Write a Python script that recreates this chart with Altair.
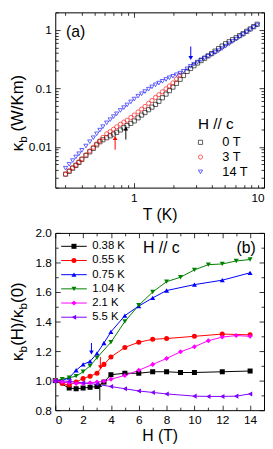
import altair as alt
import pandas as pd

FONT = "Liberation Sans"

# ---------------- panel (a): kappa_b vs T (log-log) ----------------
T_vals = [0.30, 0.32, 0.34, 0.36, 0.38, 0.40, 0.43, 0.46, 0.49, 0.52, 0.55, 0.58, 0.62, 0.66, 0.70, 0.74, 0.79, 0.84, 0.89, 0.95,
          1.01, 1.08, 1.15, 1.22, 1.30, 1.38, 1.47, 1.56, 1.66, 1.77, 1.88, 2.00, 2.13, 2.27, 2.41, 2.57, 2.73, 2.90, 3.09, 3.29,
          3.50, 3.72, 3.96, 4.21, 4.48, 4.77, 5.07, 5.40, 5.74, 6.11, 6.50, 6.91, 7.36, 7.83, 8.33, 8.86]
k_0T = [0.0034, 0.0038, 0.0043, 0.0048, 0.0054, 0.0061, 0.0071, 0.0082, 0.0094, 0.0108, 0.0122, 0.0132, 0.0143, 0.0154, 0.0165, 0.0177, 0.0194, 0.0212, 0.0230, 0.0252,
        0.0277, 0.0313, 0.0349, 0.0386, 0.0431, 0.0477, 0.0531, 0.0600, 0.0690, 0.0798, 0.0914, 0.105, 0.122, 0.143, 0.166, 0.195, 0.219, 0.244, 0.272, 0.299,
        0.327, 0.360, 0.394, 0.434, 0.479, 0.530, 0.581, 0.628, 0.681, 0.736, 0.800, 0.863, 0.948, 1.04, 1.14, 1.25]
k_3T = [0.0034, 0.0039, 0.0044, 0.0049, 0.0055, 0.0062, 0.0073, 0.0085, 0.0098, 0.0112, 0.0127, 0.0145, 0.0167, 0.0182, 0.0200, 0.0220, 0.0243, 0.0265, 0.0285, 0.0318,
        0.0350, 0.0395, 0.0440, 0.0490, 0.0555, 0.0620, 0.0700, 0.0780, 0.0875, 0.0985, 0.110, 0.124, 0.145, 0.168]
k_14T = [0.0043, 0.0050, 0.0058, 0.0067, 0.0076, 0.0087, 0.0103, 0.0122, 0.0143, 0.0167, 0.0193, 0.0221, 0.0257, 0.0291, 0.0328, 0.0367, 0.0419, 0.0468, 0.0521, 0.0587,
         0.0656, 0.0735, 0.0807, 0.0881, 0.0968, 0.106, 0.115, 0.123, 0.132, 0.142, 0.152, 0.161, 0.171, 0.182, 0.196, 0.216, 0.238, 0.259, 0.282, 0.308,
         0.330, 0.354, 0.380, 0.410, 0.442, 0.480, 0.526, 0.578, 0.634, 0.696, 0.764, 0.837, 0.920, 1.009, 1.107, 1.214]
fields_a = ["0 T", "3 T", "14 T"]
colors_a = ["#000000", "#ff0000", "#0000ff"]
shapes_a = ["square", "circle", "triangle-down"]

arrow_a_T = [0.87, 0.72, 2.74]
arrow_a_from = [0.0133, 0.0089, 0.52]
arrow_a_to = [0.0205, 0.0142, 0.33]
arrow_a_color = ["#000000", "#ff0000", "#0000ff"]

# ---------------- panel (b): kappa_b(H)/kappa_b(0) vs H ----------------
series_b = ["0.38 K", "0.55 K", "0.75 K", "1.04 K", "2.1 K", "5.5 K"]
colors_b = ["#000000", "#ff0000", "#0000ff", "#008000", "#ff00ff", "#8000ff"]
shapes_b = ["square", "circle", "triangle-up", "triangle-down", "diamond", "triangle-left"]
H_038 = [0, 1, 1.5, 2, 2.5, 3, 3.5, 4, 5, 6, 7, 8, 9, 10, 12, 14]
r_038 = [1.00, 0.95, 0.945, 0.95, 0.955, 0.96, 0.99, 1.04, 1.05, 1.05, 1.06, 1.06, 1.055, 1.055, 1.06, 1.065]
H_055 = [0, 0.5, 1, 1.5, 2, 2.5, 3, 3.5, 4, 5, 6, 7, 8, 10, 12, 14]
r_055 = [1.00, 0.98, 0.97, 0.99, 1.015, 1.03, 1.05, 1.11, 1.16, 1.225, 1.26, 1.28, 1.285, 1.30, 1.315, 1.31]
H_075 = [0, 0.5, 1, 1.5, 2, 2.5, 3, 3.5, 4, 5, 6, 7, 8, 10, 12, 14]
r_075 = [1.00, 1.00, 1.02, 1.07, 1.11, 1.13, 1.185, 1.255, 1.33, 1.44, 1.505, 1.56, 1.61, 1.65, 1.68, 1.73]
H_104 = [0, 0.5, 1, 1.5, 2, 2.5, 3, 4, 5, 6, 7, 8, 9, 10, 11, 12, 13, 14]
r_104 = [1.00, 1.01, 1.02, 1.03, 1.06, 1.10, 1.155, 1.26, 1.40, 1.51, 1.60, 1.67, 1.70, 1.75, 1.785, 1.79, 1.81, 1.82]
H_21 = [0, 0.5, 1, 1.5, 2, 2.5, 3, 3.5, 4, 5, 6, 7, 8, 9, 10, 11, 12, 13, 14]
r_21 = [1.00, 0.99, 0.985, 0.98, 0.98, 0.985, 0.99, 0.995, 1.01, 1.035, 1.07, 1.11, 1.15, 1.195, 1.23, 1.27, 1.295, 1.305, 1.30]
H_55 = [0, 1, 2, 3, 4, 5, 6, 7, 8, 10, 11, 12, 13, 14]
r_55 = [1.00, 0.995, 0.985, 0.975, 0.96, 0.945, 0.93, 0.92, 0.91, 0.895, 0.893, 0.893, 0.895, 0.91]

arrow_b_H = [2.6, 3.24, 3.2]
arrow_b_from = [1.255, 1.16, 0.865]
arrow_b_to = [1.19, 1.09, 0.97]
arrow_b_color = ["#0000ff", "#ff0000", "#000000"]

# ---------------- tables ----------------
rows = []
for lab, ks in zip(fields_a, [k_0T, k_3T, k_14T]):
    for t, k in zip(T_vals, ks):
        rows.append({"T": t, "k": k, "field": lab})
df_a = pd.DataFrame(rows)

rows = []
for lab, hs, rs in zip(series_b, [H_038, H_055, H_075, H_104, H_21, H_55],
                       [r_038, r_055, r_075, r_104, r_21, r_55]):
    for h, r in zip(hs, rs):
        rows.append({"H": h, "r": r, "series": lab})
df_b = pd.DataFrame(rows)

W, HA, HB = 212, 178, 180
ONE = alt.Data(values=[{}])

xa = alt.Scale(type="log", domain=[0.25, 10], nice=False)
ya = alt.Scale(type="log", domain=[0.002, 2], nice=False)
xb = alt.Scale(domain=[0, 15], nice=False, zero=False)
yb = alt.Scale(domain=[0.8, 2.0], nice=False, zero=False)

xt_a = [round(m * 10 ** e, 6) for e in (-1, 0) for m in range(1, 10) if 0.25 <= m * 10 ** e <= 10] + [10]
yt_a = [round(m * 10 ** e, 6) for e in (-3, -2, -1, 0) for m in range(1, 10) if 0.002 <= m * 10 ** e <= 2]
xt_b = list(range(0, 16))
yt_b = [round(0.8 + 0.1 * i, 1) for i in range(13)]


def txt(s, x, y, size, align="left", baseline="middle", angle=0, color="black"):
    return alt.Chart(ONE).mark_text(text=s, font=FONT, fontSize=size, align=align,
                                    baseline=baseline, angle=angle, color=color).encode(
        x=alt.value(x), y=alt.value(y))


def frame_ticks(df, xf, yf, xs, ys, xt, yt, w, h, xmaj, ymaj):
    common = dict(labels=False, domain=False, grid=False, title=None, tickColor="black", tickWidth=0.8)
    xsz = {"condition": {"test": xmaj, "value": 5}, "value": 3}
    ysz = {"condition": {"test": ymaj, "value": 5}, "value": 3}
    l1 = alt.Chart(df).mark_point(opacity=0).encode(
        x=alt.X(xf, scale=xs, axis=alt.Axis(orient="top", offset=-h, values=xt, tickSize=xsz, **common)),
        y=alt.Y(yf, scale=ys, axis=alt.Axis(orient="right", offset=-w, values=yt, tickSize=ysz, **common)))
    l2 = alt.Chart(df).mark_point(opacity=0).encode(
        x=alt.X(xf, scale=xs, axis=alt.Axis(orient="bottom", offset=-h, values=xt, tickSize=xsz, **common)),
        y=alt.Y(yf, scale=ys, axis=alt.Axis(orient="left", offset=-w, values=yt, tickSize=ysz, **common)))
    return [l1, l2]


def arrow_layers(xs_, y0s, y1s, cols, xname, yname, xs, ys):
    out = []
    for xv, a, b, c in zip(xs_, y0s, y1s, cols):
        d = pd.DataFrame({xname: [xv], yname: [a], yname + "2": [b]})
        out.append(alt.Chart(d).mark_rule(color=c, strokeWidth=1).encode(
            x=alt.X(xname + ":Q", scale=xs, axis=None),
            y=alt.Y(yname + ":Q", scale=ys, axis=None), y2=yname + "2:Q"))
        out.append(alt.Chart(d).mark_point(filled=True, color=c, size=22, opacity=1,
                                           shape="triangle-up" if b > a else "triangle-down").encode(
            x=alt.X(xname + ":Q", scale=xs, axis=None),
            y=alt.Y(yname + "2:Q", scale=ys, axis=None)))
    return out


def rot_title(pieces, x0, y0):
    out = []
    y = y0
    for s, size, sub, adv in pieces:
        out.append(txt(s, x0 + (4 if sub else 0), y, size, align="left", baseline="alphabetic", angle=270))
        y -= adv
    return out


# ---------------- panel (a) ----------------
pts_a = alt.Chart(df_a).mark_point(filled=False, size=18, strokeWidth=0.9).encode(
    x=alt.X("T:Q", scale=xa, axis=alt.Axis(orient="bottom", values=[1, 10], format="~g", ticks=False, tickSize=0,
                                           domain=False, grid=False, labelPadding=5, title="T (K)", titlePadding=3)),
    y=alt.Y("k:Q", scale=ya, axis=alt.Axis(orient="left", values=[0.01, 0.1, 1], format="~g", ticks=False, tickSize=0,
                                           domain=False, grid=False, labelPadding=4, title=None)),
    color=alt.Color("field:N", scale=alt.Scale(domain=fields_a, range=colors_a), legend=None),
    shape=alt.Shape("field:N", scale=alt.Scale(domain=fields_a, range=shapes_a), legend=None),
)

layers_a = [pts_a] + frame_ticks(df_a, "T:Q", "k:Q", xa, ya, xt_a, yt_a, W, HA,
                                  "abs(log(datum.value)/LN10 - round(log(datum.value)/LN10)) < 0.001",
                                  "abs(log(datum.value)/LN10 - round(log(datum.value)/LN10)) < 0.001")
layers_a += arrow_layers(arrow_a_T, arrow_a_from, arrow_a_to, arrow_a_color, "T", "k", xa, ya)
layers_a.append(txt("(a)", 11, 20, 16))
layers_a.append(txt("H // c", 145, 113.5, 15.5))
for i, (lab, col, shp) in enumerate(zip(fields_a, colors_a, shapes_a)):
    yy = 132 + 15 * i
    layers_a.append(alt.Chart(ONE).mark_point(shape=shp, filled=False, color=col, size=18, strokeWidth=0.9).encode(
        x=alt.value(147.5), y=alt.value(yy)))
    layers_a.append(txt(lab, 169.6, yy, 13))
layers_a += rot_title([("κ", 17, False, 8.6), ("b", 12, True, 6.7 + 4.7), ("(W/Km)", 17, False, 0)], -33, 141)

panel_a = alt.layer(*layers_a).resolve_axis(x="independent", y="independent").properties(width=W, height=HA)

# ---------------- panel (b) ----------------
lines_b = alt.Chart(df_b).mark_line(strokeWidth=1).encode(
    x=alt.X("H:Q", scale=xb, axis=alt.Axis(orient="bottom", values=list(range(0, 15, 2)), format="d", ticks=False,
                                           tickSize=0, domain=False, grid=False, labelPadding=5, title="H (T)", titlePadding=2)),
    y=alt.Y("r:Q", scale=yb, axis=alt.Axis(orient="left", values=[round(0.8 + 0.2 * i, 1) for i in range(7)], format=".1f",
                                           ticks=False, tickSize=0, domain=False, grid=False, labelPadding=4, title=None)),
    color=alt.Color("series:N", scale=alt.Scale(domain=series_b, range=colors_b), legend=None),
    detail="series:N",
)
pts_b = alt.Chart(df_b).mark_point(filled=True, size=26, opacity=1).encode(
    x=alt.X("H:Q", scale=xb, axis=None), y=alt.Y("r:Q", scale=yb, axis=None),
    color=alt.Color("series:N", scale=alt.Scale(domain=series_b, range=colors_b), legend=None),
    shape=alt.Shape("series:N", scale=alt.Scale(domain=series_b, range=shapes_b), legend=None),
)

layers_b = [lines_b, pts_b] + frame_ticks(df_b, "H:Q", "r:Q", xb, yb, xt_b, yt_b, W, HB,
                                          "datum.value % 2 == 0",
                                          "abs(datum.value*5 - round(datum.value*5)) < 0.01")
layers_b += arrow_layers(arrow_b_H, arrow_b_from, arrow_b_to, arrow_b_color, "H", "r", xb, yb)
layers_b.append(txt("H // c", 89, 15, 16))
layers_b.append(txt("(b)", 184, 15, 16))
for i, (lab, col, shp) in enumerate(zip(series_b, colors_b, shapes_b)):
    yy = 13.6 + 14.4 * i
    layers_b.append(alt.Chart(ONE).mark_rule(color=col, strokeWidth=1).encode(
        x=alt.value(6), x2=alt.value(32), y=alt.value(yy)))
    layers_b.append(alt.Chart(ONE).mark_point(shape=shp, filled=True, color=col, size=26, opacity=1).encode(
        x=alt.value(19), y=alt.value(yy)))
    layers_b.append(txt(lab, 37.5, yy, 11.5))
layers_b += rot_title([("κ", 17, False, 8.6), ("b", 12, True, 6.7), ("(H)/", 17, False, 28.3),
                       ("κ", 17, False, 8.6), ("b", 12, True, 6.7), ("(0)", 17, False, 0)], -33, 130)

panel_b = alt.layer(*layers_b).resolve_axis(x="independent", y="independent").properties(width=W, height=HB)

chart = alt.vconcat(panel_a, panel_b, spacing=3).resolve_scale(
    color="independent", shape="independent", x="independent", y="independent"
).properties(
    padding=0, background="white"
).configure_view(stroke="black", strokeWidth=1).configure_axis(
    labelFont=FONT, titleFont=FONT, labelColor="black", titleColor="black",
    labelFontSize=12, titleFontSize=16, titleFontWeight="normal"
)

chart.save("out.html", embed_options={"renderer": "svg", "actions": False})
